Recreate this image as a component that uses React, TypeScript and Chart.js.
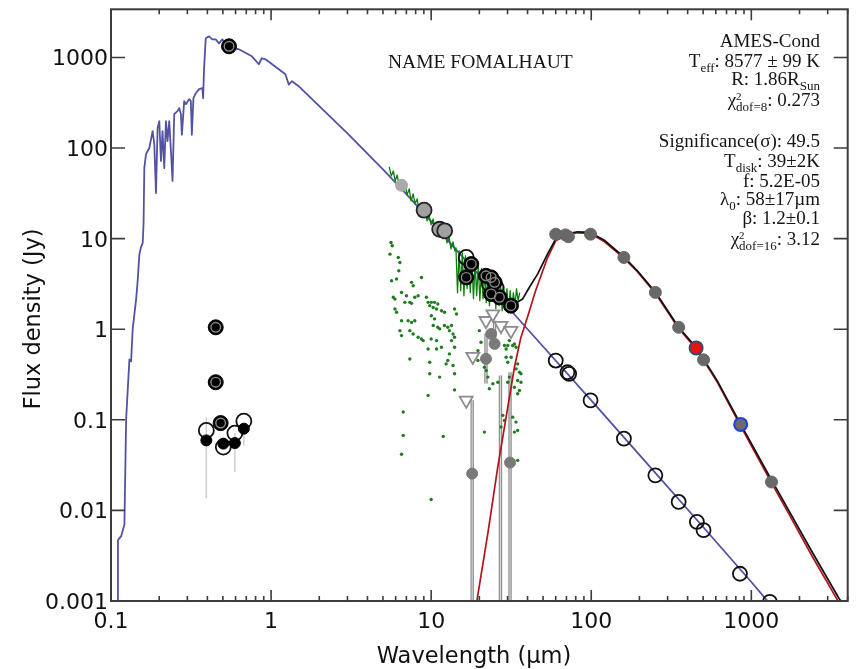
import React, { useEffect, useRef } from "react";
import { Chart, registerables } from "chart.js";

Chart.register(...registerables);

type P = [number, number];

const xTickValues = [0.1, 1, 10, 100, 1000];
const xTickLabels = ["0.1", "1", "10", "100", "1000"];
const yTickValues = [0.001, 0.01, 0.1, 1, 10, 100, 1000];
const yTickLabels = ["0.001", "0.01", "0.1", "1", "10", "100", "1000"];

// stellar photosphere model (AMES-Cond), wavelength um / flux Jy
const photosphereModel: P[] = [
  [0.1105, 0.0009], [0.1105, 0.0047], [0.1157, 0.0052], [0.1213, 0.007], [0.1243, 0.101],
  [0.1303, 0.463], [0.1335, 0.44], [0.1366, 1.0], [0.1435, 2.14], [0.1468, 3.45],
  [0.1504, 6.7], [0.1541, 8.1], [0.1577, 8.9], [0.1597, 14.5], [0.1615, 60.5],
  [0.1655, 85.9], [0.1735, 100], [0.182, 153.9], [0.1864, 110.7], [0.191, 31.9],
  [0.1954, 166], [0.2003, 198], [0.2052, 71.9], [0.2099, 153.9], [0.2151, 60.2],
  [0.2204, 198], [0.2255, 119.4], [0.2311, 198], [0.2368, 92.7], [0.2423, 43.3],
  [0.2483, 236.8], [0.2603, 255.5], [0.2667, 276], [0.2733, 236.8], [0.2772, 140],
  [0.2865, 329], [0.2936, 305], [0.3077, 346.7], [0.3153, 329], [0.3199, 140],
  [0.3273, 355], [0.3388, 403], [0.3551, 446.7], [0.3723, 458], [0.3761, 355],
  [0.3815, 760], [0.3908, 1626], [0.4099, 1711], [0.4297, 1585], [0.451, 1585],
  [0.4729, 1432], [0.4959, 1585], [0.5205, 1396], [0.5616, 1294], [0.6297, 1231],
  [0.7586, 1030], [0.8386, 841], [0.8756, 980], [0.9231, 955], [1.229, 653],
  [1.289, 502], [1.351, 547], [1.487, 482], [2.0, 290], [3.0, 145],
  [5.0, 58], [7.0, 31], [10, 15.5], [15, 6.89], [20, 3.93],
  [30, 1.77], [50, 0.645], [100, 0.164], [200, 0.041], [500, 0.00656],
  [1000, 0.00162], [1300, 0.00094],
];

// disk-only modified blackbody model
const diskModel: P[] = [
  [19.0, 0.0008], [19.3, 0.001], [22.6, 0.00557], [26.06, 0.0301], [29.4, 0.107],
  [33.1, 0.378], [36.2, 0.788], [40.05, 1.376], [44.9, 2.66], [53.3, 6.14],
  [60, 9.46], [71, 11.0], [81.9, 11.6], [98.4, 11.4], [120.6, 9.3],
  [160, 6.1], [193.5, 4.35], [251.5, 2.5], [351.6, 1.02], [457, 0.595],
  [608, 0.267], [849, 0.0885], [1305, 0.0218], [1658, 0.0102], [2404, 0.0031],
  [3540, 0.00095], [4000, 0.00072],
];

// star + disk total model
const totalModel: P[] = [
  [31, 1.86], [33, 1.9], [37.3, 2.16], [41, 2.89],
  [46.2, 4.06], [53.3, 6.75], [60, 9.9], [71, 11.3], [82, 11.9], [98.4, 11.7],
  [120.6, 9.6], [160, 6.3], [193.5, 4.45], [251.5, 2.57], [351.6, 1.05],
  [457, 0.615], [608, 0.276], [849, 0.0925], [1305, 0.0234], [1658, 0.0111],
  [2404, 0.00345], [3540, 0.00106], [4000, 0.0008],
];

// Spitzer IRS spectrum
const irsSpectrum: P[] = [
  [5.47, 61.8], [5.63, 49.2], [5.80, 55.8], [5.96, 43.3], [6.14, 50.4], [6.32, 37.2],
  [6.50, 43.3], [6.69, 33.6], [6.88, 39.1], [7.08, 30.4], [7.29, 35.4], [7.50, 26.1],
  [7.72, 31.1], [7.94, 24.2], [8.17, 27.4], [8.41, 20.2], [8.66, 23.6], [8.91, 18.3],
  [9.17, 20.8], [9.43, 15.7], [9.70, 18.3], [9.99, 14.2], [10.28, 16.5], [10.57, 12.8],
  [10.88, 14.6], [11.20, 11.6], [11.52, 13.1], [11.86, 9.95], [12.2, 11.6], [12.56, 8.99],
  [12.92, 10.5], [13.3, 7.72], [13.69, 9.22], [14.08, 7.34],
  [14.28, 7.92], [14.61, 2.53], [14.95, 7.34], [15.30, 2.66], [15.65, 6.98], [16.02, 2.34],
  [16.39, 6.47], [16.77, 2.80], [17.16, 5.99], [17.56, 2.53], [17.96, 5.69], [18.38, 2.17],
  [18.81, 5.41], [19.24, 2.34], [19.69, 5.02], [20.15, 2.07], [20.61, 4.65], [21.09, 2.17],
  [21.58, 4.42], [22.08, 1.96], [22.59, 4.20], [23.12, 1.82], [23.65, 3.89], [24.20, 2.07],
  [24.76, 3.61], [25.34, 1.69], [25.93, 3.43], [26.53, 1.82], [27.14, 3.18], [27.77, 1.60],
  [28.42, 3.02], [29.08, 1.69], [29.75, 2.80], [30.44, 1.52], [31.15, 2.66], [31.87, 1.60],
  [32.61, 2.53], [33.37, 1.82], [34.14, 2.80], [34.94, 2.07], [35.75, 2.53],
];

// IRS scattered low points
const irsDots: P[] = [
  [5.61, 9.07], [5.71, 8.33], [5.53, 6.74], [6.23, 6.20], [6.38, 5.46], [6.28, 4.42],
  [5.66, 3.43], [6.08, 3.58], [7.54, 3.29], [7.72, 3.02], [8.70, 3.73], [6.53, 2.55],
  [5.80, 2.25], [5.94, 2.15], [7.01, 2.34], [7.36, 1.98], [7.90, 2.25], [8.29, 2.34],
  [6.85, 1.98], [7.54, 1.93], [9.34, 2.25], [9.57, 1.98], [10.03, 1.98], [10.5, 1.98],
  [11.0, 1.90], [9.80, 1.82], [10.3, 1.74], [10.8, 1.67], [11.6, 1.60], [12.1, 1.54],
  [14.0, 1.67], [14.4, 1.47], [5.94, 1.67], [6.08, 1.54], [6.53, 1.24], [6.38, 0.965],
  [7.18, 1.24], [7.54, 1.19], [7.90, 1.24], [7.36, 0.965], [7.72, 0.887], [6.53, 0.85],
  [8.29, 0.815], [8.70, 0.781], [8.91, 0.749], [10.03, 1.41], [10.5, 1.30], [10.3, 1.10],
  [11.0, 1.05], [11.3, 1.01], [12.1, 1.10], [12.7, 1.05], [13.0, 0.965], [13.4, 1.10],
  [13.7, 0.887], [14.0, 0.815], [10.0, 0.781], [10.8, 0.749], [10.8, 0.606], [11.6, 0.632],
  [13.4, 0.749], [14.0, 0.632], [9.57, 0.606], [7.36, 0.470], [13.0, 0.534], [12.7, 0.451],
  [12.4, 0.414], [13.7, 0.397], [9.80, 0.432], [9.80, 0.322], [11.3, 0.296], [14.0, 0.322],
  [9.57, 0.186], [14.0, 0.214], [20.0, 0.965], [19.6, 0.451], [21.5, 0.381], [22.1, 0.350],
  [22.6, 0.296], [24.3, 0.250], [23.1, 0.220], [26.1, 0.260], [28.7, 0.660], [29.4, 0.606],
  [30.1, 0.660], [30.8, 0.749], [32.3, 0.660], [33.1, 0.688], [33.9, 0.632], [29.4, 0.491],
  [31.6, 0.491], [30.1, 0.432], [34.7, 0.414], [33.9, 0.365], [35.6, 0.336], [30.8, 0.296],
  [30.1, 0.260], [34.7, 0.272], [36.4, 0.260], [33.1, 0.229], [35.6, 0.211], [34.7, 0.194],
  [36.4, 0.322], [32.3, 0.107], [33.9, 0.0944], [34.7, 0.0764], [28.0, 0.112], [28.7, 0.0985],
  [27.3, 0.0832], [21.5, 0.0732], [33.1, 0.0732], [34.7, 0.0357], [6.69, 0.122], [6.69, 0.0673],
  [6.53, 0.0416], [11.9, 0.0656], [10.0, 0.0132], [19.6, 0.581], [20.5, 0.718],
];

// photometry used in the stellar fit (black with ring)
const usedPhotometry: P[] = [
  [0.546, 1327], [0.451, 1.05], [0.451, 0.26], [0.484, 0.092],
  [17.8, 5.24], [16.56, 3.73], [22.0, 3.89], [23.7, 3.73], [24.9, 3.29],
  [23.7, 2.45], [26.7, 2.25], [31.5, 1.82],
];
const opticalBlack: P[] = [[0.394, 0.0593], [0.503, 0.0546], [0.594, 0.0554], [0.676, 0.0798]];
const opticalOpen: P[] = [[0.394, 0.0764], [0.503, 0.05], [0.594, 0.0714], [0.676, 0.0967]];
const irGrayCircles: P[] = [[9.03, 20.6], [11.3, 12.7], [12.15, 12.2]];
const irOpenCircles: P[] = [[16.56, 6.2], [23.1, 3.16], [25.4, 2.89]];
const irLightPoint: P[] = [[6.53, 38.8]];
const upperLimits: P[] = [[16.56, 0.164], [18.2, 0.499], [22.0, 1.24], [24.3, 1.47], [27.3, 1.095], [31.5, 0.965]];
const excessPoints: P[] = [[23.7, 0.887], [24.9, 0.689], [22.0, 0.471], [18.04, 0.0255], [31.1, 0.0337]];
// [wavelength, low, high]
const irErrorBars: [number, number, number][] = [
  [18.04, 0.0004, 0.164], [27.1, 0.0004, 0.309], [31.1, 0.0004, 0.335], [22.0, 0.251, 0.89], [24.9, 0.63, 1.24],
];
const opticalErrorBars: [number, number, number][] = [
  [0.394, 0.0136, 0.107], [0.594, 0.0265, 0.0714], [0.676, 0.052, 0.083],
];
const diskPhotometry: P[] = [
  [60, 11.2], [69, 11.0], [72, 10.5], [99, 11.2], [160, 6.2], [251.5, 2.55],
  [351.6, 1.05], [503, 0.459], [1337, 0.0206],
];
const redPhotometry: P[] = [[452, 0.622]];
const bluePhotometry: P[] = [[858, 0.089]];
const photosphereCircles: P[] = [
  [60, 0.451], [71, 0.335], [72.8, 0.322], [99, 0.164], [160, 0.0619], [251.5, 0.0244],
  [351.6, 0.0124], [457, 0.00747], [503, 0.00605], [849, 0.002], [1305, 0.00098],
];

const SERIF = '"Liberation Serif", "DejaVu Serif", serif';
const SANS = '"DejaVu Sans", Verdana, sans-serif';

type Seg = { t?: string; sub?: string; sup?: string };
const infoLines: { segs: Seg[]; base: number }[] = [
  { segs: [{ t: "AMES-Cond" }], base: 47 },
  { segs: [{ t: "T" }, { sub: "eff" }, { t: ": 8577 \u00b1 99 K" }], base: 67 },
  { segs: [{ t: "R: 1.86R" }, { sub: "Sun" }], base: 85 },
  { segs: [{ t: "\u03c7" }, { sup: "2", sub: "dof=8" }, { t: ": 0.273" }], base: 106 },
  { segs: [{ t: "Significance(\u03c3): 49.5" }], base: 147 },
  { segs: [{ t: "T" }, { sub: "disk" }, { t: ": 39\u00b12K" }], base: 167 },
  { segs: [{ t: "f: 5.2E-05" }], base: 187 },
  { segs: [{ t: "\u03bb" }, { sub: "0" }, { t: ": 58\u00b117\u00b5m" }], base: 205 },
  { segs: [{ t: "\u03b2: 1.2\u00b10.1" }], base: 224 },
  { segs: [{ t: "\u03c7" }, { sup: "2", sub: "dof=16" }, { t: ": 3.12" }], base: 245 },
];

function segWidth(ctx: CanvasRenderingContext2D, s: Seg) {
  if (s.t !== undefined) {
    ctx.font = `19px ${SERIF}`;
    return ctx.measureText(s.t).width;
  }
  ctx.font = `13px ${SERIF}`;
  const w1 = s.sub ? ctx.measureText(s.sub).width : 0;
  ctx.font = `11px ${SERIF}`;
  const w2 = s.sup ? ctx.measureText(s.sup).width : 0;
  return Math.max(w1, w2);
}

function drawRich(ctx: CanvasRenderingContext2D, segs: Seg[], right: number, base: number) {
  const widths = segs.map((s) => segWidth(ctx, s));
  let x = right - widths.reduce((a, b) => a + b, 0);
  ctx.textAlign = "left";
  ctx.textBaseline = "alphabetic";
  segs.forEach((s, i) => {
    if (s.t !== undefined) {
      ctx.font = `19px ${SERIF}`;
      ctx.fillText(s.t, x, base);
    } else {
      if (s.sub) {
        ctx.font = `13px ${SERIF}`;
        ctx.fillText(s.sub, x, base + 4.5);
      }
      if (s.sup) {
        ctx.font = `11px ${SERIF}`;
        ctx.fillText(s.sup, x, base - 6);
      }
    }
    x += widths[i];
  });
}

const framePlugin = {
  id: "sedFrame",
  afterDraw(chart: any) {
    const { ctx, chartArea: a, scales } = chart;
    const xs = scales.x;
    const ys = scales.y;
    ctx.save();
    ctx.strokeStyle = "#3c3c3c";
    ctx.lineWidth = 2;
    ctx.strokeRect(a.left, a.top, a.right - a.left, a.bottom - a.top);
    ctx.lineWidth = 1.6;
    ctx.beginPath();
    for (let e = -1; e <= 3; e++) {
      for (let k = 1; k <= 9; k++) {
        const v = k * Math.pow(10, e);
        if (v > xs.max) break;
        const px = xs.getPixelForValue(v);
        const len = k === 1 ? 11 : 5;
        ctx.moveTo(px, a.bottom);
        ctx.lineTo(px, a.bottom - len);
        ctx.moveTo(px, a.top);
        ctx.lineTo(px, a.top + len);
      }
    }
    for (const v of yTickValues) {
      const py = ys.getPixelForValue(v);
      ctx.moveTo(a.left, py);
      ctx.lineTo(a.left + 14, py);
      ctx.moveTo(a.right, py);
      ctx.lineTo(a.right - 14, py);
    }
    ctx.stroke();

    ctx.fillStyle = "#111";
    ctx.font = `22px ${SANS}`;
    ctx.textBaseline = "alphabetic";
    ctx.textAlign = "center";
    xTickValues.forEach((v, i) => {
      ctx.fillText(xTickLabels[i], xs.getPixelForValue(v), 628);
    });
    ctx.textAlign = "right";
    yTickValues.forEach((v, i) => {
      ctx.fillText(yTickLabels[i], a.left - 3, ys.getPixelForValue(v) + 8);
    });

    ctx.font = `22.5px ${SANS}`;
    ctx.textAlign = "center";
    ctx.fillText("Wavelength (\u00b5m)", 474, 663);
    ctx.save();
    ctx.translate(40, 319);
    ctx.rotate(-Math.PI / 2);
    ctx.fillText("Flux density (Jy)", 0, 0);
    ctx.restore();

    ctx.fillStyle = "#151515";
    ctx.font = `19.5px ${SERIF}`;
    ctx.textAlign = "left";
    ctx.fillText("NAME FOMALHAUT", 388, 68);
    infoLines.forEach((ln) => drawRich(ctx, ln.segs, 820, ln.base));
    ctx.restore();
  },
};

const mk = (arr: P[]) => arr.map(([x, y]) => ({ x, y }));

const lineDs = (label: string, data: P[], color: string, width: number, order: number) => ({
  label,
  data: mk(data),
  showLine: true,
  borderColor: color,
  backgroundColor: color,
  borderWidth: width,
  pointRadius: 0,
  pointHoverRadius: 0,
  borderJoinStyle: "round" as const,
  spanGaps: false,
  order,
});

const pointDs = (label: string, data: P[], opts: any, order: number) => ({
  label,
  data: mk(data),
  showLine: false,
  pointHoverRadius: opts.pointRadius,
  order,
  ...opts,
});

export default function App() {
  const ref = useRef<HTMLCanvasElement | null>(null);
  useEffect(() => {
    if (!ref.current) return;
    const datasets: any[] = [
      pointDs("red", redPhotometry, { pointRadius: 6.5, backgroundColor: "#ee1111", borderColor: "#3b4a6b", borderWidth: 2 }, 0),
      pointDs("blue", bluePhotometry, { pointRadius: 6.5, backgroundColor: "#6a6a6a", borderColor: "#1f3ee0", borderWidth: 2 }, 0),
      pointDs("disk", diskPhotometry, { pointRadius: 6, backgroundColor: "#686868", borderColor: "#686868", borderWidth: 1 }, 1),
      pointDs("photCircles", photosphereCircles, { pointRadius: 7, backgroundColor: "rgba(0,0,0,0)", borderColor: "#111", borderWidth: 1.8 }, 2),
      pointDs("usedRing", usedPhotometry, { pointRadius: 4.8, backgroundColor: "rgba(0,0,0,0)", borderColor: "#8a8a8a", borderWidth: 1.4 }, 1),
      pointDs("used", usedPhotometry, { pointRadius: 7.5, backgroundColor: "#000", borderColor: "#000", borderWidth: 1 }, 2),
      pointDs("optBlack", opticalBlack, { pointRadius: 5.5, backgroundColor: "#000", borderColor: "#000", borderWidth: 1 }, 2),
      pointDs("optOpen", opticalOpen, { pointRadius: 7.5, backgroundColor: "rgba(0,0,0,0)", borderColor: "#111", borderWidth: 1.8 }, 3),
      pointDs("irGray", irGrayCircles, { pointRadius: 7.5, backgroundColor: "#a0a0a0", borderColor: "#222", borderWidth: 1.8 }, 3),
      pointDs("irOpen", irOpenCircles, { pointRadius: 7.5, backgroundColor: "rgba(0,0,0,0)", borderColor: "#111", borderWidth: 1.8 }, 3),
      pointDs("irLight", irLightPoint, { pointRadius: 6, backgroundColor: "#aaaaaa", borderColor: "#aaaaaa", borderWidth: 1 }, 3),
      pointDs("excess", excessPoints, { pointRadius: 5.5, backgroundColor: "#7a7a7a", borderColor: "#7a7a7a", borderWidth: 1 }, 4),
      pointDs("ul", upperLimits, { pointRadius: 7.5, pointStyle: "triangle", rotation: 180, backgroundColor: "#fff", borderColor: "#8c8c8c", borderWidth: 1.8 }, 4),
      lineDs("total", totalModel, "#111111", 1.7, 6),
      lineDs("diskModel", diskModel, "#b3141b", 1.7, 7),
      lineDs("irs", irsSpectrum, "#0d7f0d", 1.3, 8),
      lineDs("photModel", photosphereModel, "#5252a3", 1.8, 9),
      pointDs("irsDots", irsDots, { pointRadius: 1.7, backgroundColor: "#1e7d1e", borderColor: "#1e7d1e", borderWidth: 0 }, 10),
    ];
    irErrorBars.forEach(([x, lo, hi], i) => {
      datasets.push(lineDs("irErrIn" + i, [[x, lo], [x, hi]], "#dddddd", 1, 11));
      datasets.push(lineDs("irErr" + i, [[x, lo], [x, hi]], "#8e8e8e", 3.4, 12));
    });
    opticalErrorBars.forEach(([x, lo, hi], i) => {
      datasets.push(lineDs("optErr" + i, [[x, lo], [x, hi]], "#cfcfcf", 1.5, 12));
    });

    const chart = new Chart(ref.current, {
      type: "scatter",
      data: { datasets },
      plugins: [framePlugin],
      options: {
        animation: false,
        responsive: false,
        events: [],
        layout: { padding: { left: 0, right: 6, top: 8, bottom: 0 } },
        plugins: { legend: { display: false }, tooltip: { enabled: false } },
        scales: {
          x: {
            type: "logarithmic",
            min: 0.1,
            max: 4000,
            ticks: { display: false },
            grid: { display: false },
            border: { display: false },
            afterFit: (s: any) => { s.height = 68; },
          },
          y: {
            type: "logarithmic",
            min: 0.001,
            max: 3400,
            ticks: { display: false },
            grid: { display: false },
            border: { display: false },
            afterFit: (s: any) => { s.width = 111; },
          },
        },
      } as any,
    });
    return () => chart.destroy();
  }, []);
  return (
    <div style={{ position: "absolute", left: 0, top: 0, width: 857, height: 669, background: "#fff" }}>
      <canvas ref={ref} width={857} height={669} style={{ width: 857, height: 669 }} />
    </div>
  );
}
